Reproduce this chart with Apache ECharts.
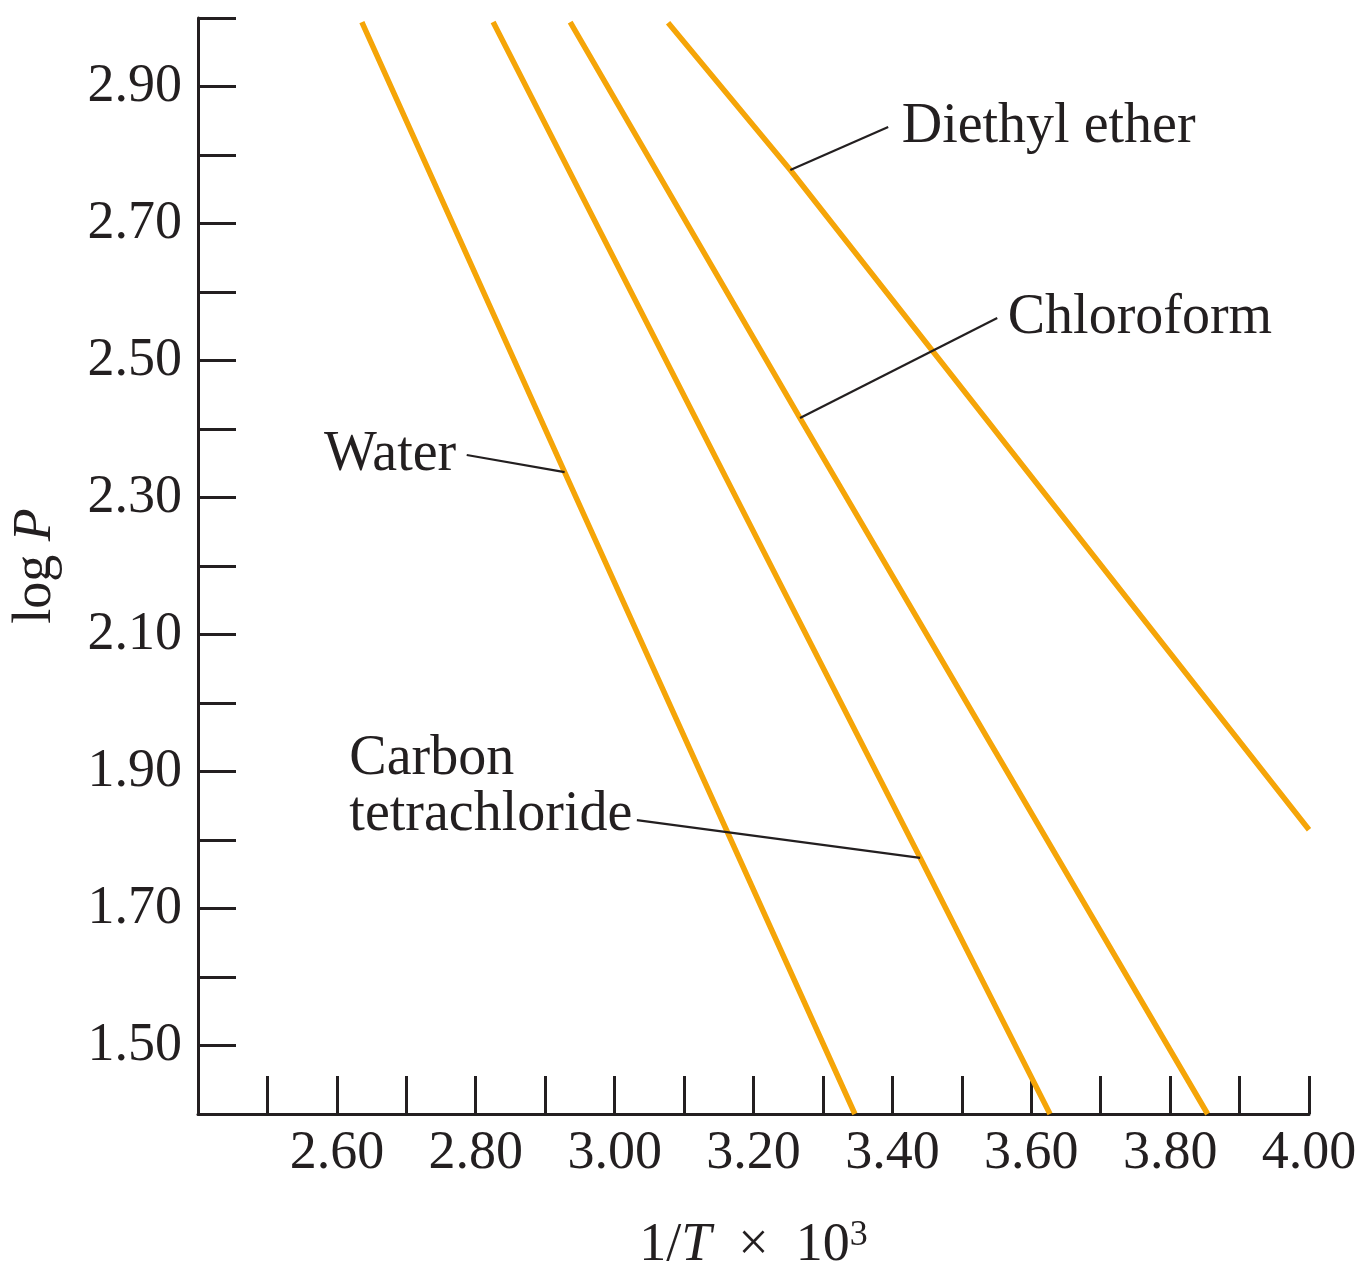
<!DOCTYPE html>
<html>
<head>
<meta charset="utf-8">
<script src="https://cdn.jsdelivr.net/npm/echarts@6/dist/echarts.min.js"></script>
<style>
  html, body { margin: 0; padding: 0; background: #ffffff; }
  #chart { width: 1360px; height: 1270px; }
</style>
</head>
<body>
<div id="chart"></div>
<script>
// ---- Data (x = 1/T × 10^3, y = log P) ----
const water = [[2.636, 2.994], [2.928, 2.337], [3.346, 1.40]];
const carbonTet = [[2.825, 2.994], [3.440, 1.774], [3.627, 1.40]];
const chloroform = [[2.936, 2.994], [3.267, 2.416], [3.854, 1.40]];
const diethylEther = [[3.077, 2.993], [3.253, 2.778], [4.00, 1.815]];

// Leader lines: [point on curve, end near label]
const leaderDiethyl = [[3.253, 2.778], [3.394, 2.841]];
const leaderChloroform = [[3.267, 2.416], [3.551, 2.562]];
const leaderWater = [[2.928, 2.337], [2.787, 2.362]];
const leaderCarbonTet = [[3.440, 1.774], [3.032, 1.829]];

const labelDiethyl = 'Diethyl ether';
const labelChloroform = 'Chloroform';
const labelWater = 'Water';
const labelCarbonTet = 'Carbon\ntetrachloride';

const xMin = 2.40, xMax = 4.00, xStep = 0.10;
const yMin = 1.40, yMax = 3.00, yStep = 0.10;

// ---- Styling ----
const FONT = '"Liberation Serif", "Times New Roman", serif';
const INK = '#231f20';
const ORANGE = '#F5A508';
const FS = 54;
const FS_LABEL = 56;

const chart = echarts.init(document.getElementById('chart'));

function curve(name, data) {
  return {
    name: name, type: 'line', data: data,
    symbol: 'none', smooth: false, clip: true,
    lineStyle: { color: ORANGE, width: 5.5 },
    z: 2
  };
}

function leader(data, text, labelOpt) {
  return {
    type: 'line',
    symbol: 'circle', symbolSize: 1, showSymbol: true,
    itemStyle: { color: 'rgba(0,0,0,0)' },
    lineStyle: { color: INK, width: 2.2 },
    z: 3,
    data: [
      { value: data[0] },
      {
        value: data[1],
        label: Object.assign({
          show: true,
          formatter: text,
          color: INK,
          fontFamily: FONT,
          fontSize: FS_LABEL,
          lineHeight: 56
        }, labelOpt)
      }
    ]
  };
}

const option = {
  animation: false,
  backgroundColor: '#ffffff',
  grid: { left: 198, right: 51, top: 18, bottom: 156, containLabel: false, outerBoundsMode: 'none' },
  xAxis: {
    type: 'value', min: xMin, max: xMax, interval: xStep,
    axisLine: { show: true, onZero: false, lineStyle: { color: INK, width: 3 } },
    axisTick: { show: true, inside: true, length: 38, lineStyle: { color: INK, width: 3 } },
    splitLine: { show: false },
    axisLabel: {
      show: true, margin: 13, color: INK, fontFamily: FONT, fontSize: FS,
      showMinLabel: true, showMaxLabel: true,
      formatter: function (v) {
        const k = Math.round(v * 10);
        return (k % 2 === 0 && k > 24) ? v.toFixed(2) : '';
      }
    },
    name: '1/{i|T}  ×  10{sup|3}',
    nameLocation: 'middle', nameGap: 104,
    nameTextStyle: {
      color: INK, fontFamily: FONT, fontSize: FS, lineHeight: 56,
      rich: {
        i: { fontStyle: 'italic', fontFamily: FONT, fontSize: FS, color: INK, lineHeight: 56 },
        sup: { fontFamily: FONT, fontSize: 36, color: INK, verticalAlign: 'top', lineHeight: 36 }
      }
    }
  },
  yAxis: {
    type: 'value', min: yMin, max: yMax, interval: yStep,
    axisLine: { show: true, onZero: false, lineStyle: { color: INK, width: 3 } },
    axisTick: { show: true, inside: true, length: 38, lineStyle: { color: INK, width: 3 } },
    splitLine: { show: false },
    axisLabel: {
      show: true, margin: 16, color: INK, fontFamily: FONT, fontSize: FS,
      showMinLabel: true, showMaxLabel: true,
      formatter: function (v) {
        const k = Math.round(v * 10);
        return (k % 2 === 1) ? v.toFixed(2) : '';
      }
    },
    name: 'log {i|P}',
    nameLocation: 'middle', nameGap: 135,
    nameTextStyle: {
      color: INK, fontFamily: FONT, fontSize: FS,
      rich: { i: { fontStyle: 'italic', fontFamily: FONT, fontSize: FS, color: INK } }
    }
  },
  series: [
    curve('Water', water),
    curve('Carbon tetrachloride', carbonTet),
    curve('Chloroform', chloroform),
    curve('Diethyl ether', diethylEther),
    leader(leaderDiethyl, labelDiethyl, { position: 'right', distance: 13 }),
    leader(leaderChloroform, labelChloroform, { position: 'right', distance: 10 }),
    leader(leaderWater, labelWater, { position: 'left', distance: 10 }),
    leader(leaderCarbonTet, labelCarbonTet, { position: [-287, -88], align: 'left', verticalAlign: 'top' })
  ]
};

chart.setOption(option);
</script>
</body>
</html>
